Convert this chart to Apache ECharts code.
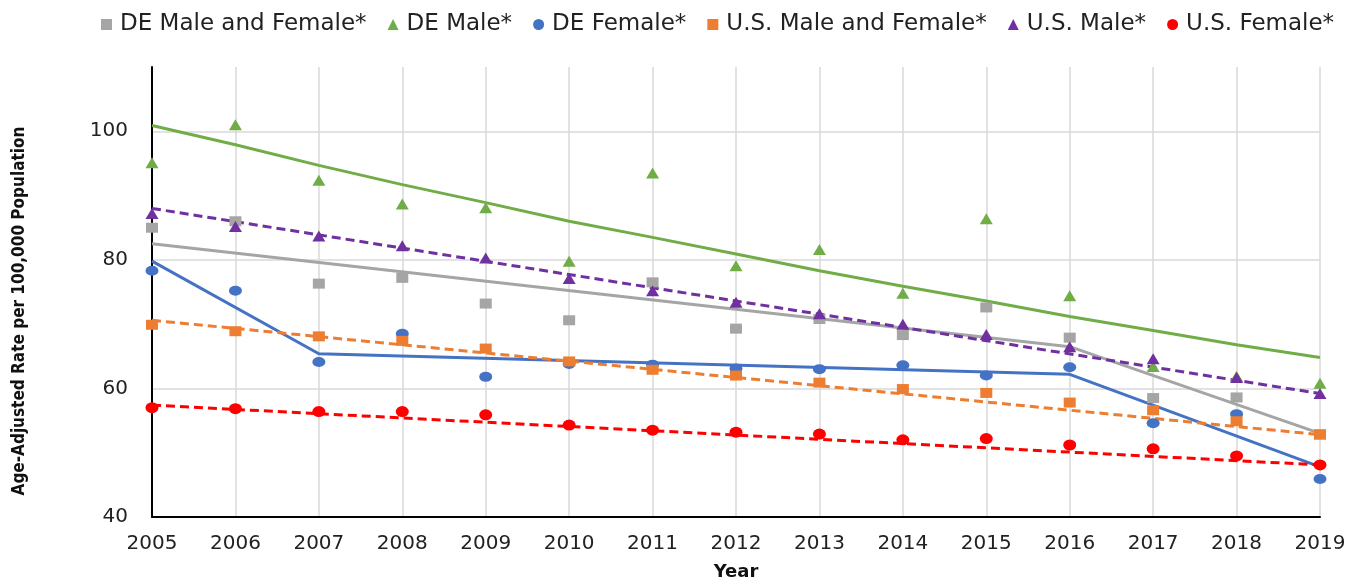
<!DOCTYPE html>
<html>
<head>
<meta charset="utf-8">
<script src="https://cdn.jsdelivr.net/npm/echarts@6/dist/echarts.min.js"></script>
<style>
    html, body { margin: 0; padding: 0; background: #fff; }
    #chart { width: 1357px; height: 579px; }
</style>
</head>
<body>
<div id="chart"></div>
<script>
// data
var years = [2005, 2006, 2007, 2008, 2009, 2010, 2011, 2012, 2013, 2014, 2015, 2016, 2017, 2018, 2019];
var yTicks = [40, 60, 80, 100];

var deBoth   = [85.0, 86.0, 76.3, 77.2, 73.2, 70.6, 76.5, 69.3, 70.8, 68.3, 72.6, 67.9, 58.5, 58.6, 52.9];
var deMale   = [95.1, 101.0, 92.4, 88.7, 88.1, 79.8, 93.5, 79.1, 81.6, 74.8, 86.4, 74.4, 63.4, 61.9, 60.8];
var deFemale = [78.3, 75.2, 64.1, 68.5, 61.8, 63.8, 63.7, 63.1, 63.0, 63.6, 62.0, 63.3, 54.6, 56.0, 45.9];
var usBoth   = [69.9, 68.9, 68.1, 67.4, 66.2, 64.2, 62.9, 62.0, 60.9, 59.9, 59.3, 57.8, 56.6, 54.9, 52.8];
var usMale   = [87.2, 85.2, 83.7, 82.2, 80.3, 77.1, 75.2, 73.4, 71.6, 70.0, 68.4, 66.5, 64.6, 61.7, 59.2];
var usFemale = [57.0, 56.85, 56.4, 56.4, 55.9, 54.3, 53.5, 53.2, 52.9, 52.0, 52.2, 51.2, 50.6, 49.5, 48.1];

// trend lines (joinpoint breaks)
var deBothTrendYears = [2005, 2016, 2019];
var deBothTrend      = [82.5, 66.5, 53.0];
var deMaleTrend      = [100.9, 97.9, 94.7, 91.7, 88.9, 86.0, 83.5, 80.9, 78.3, 75.9, 73.6, 71.2, 69.0, 66.8, 64.8];
var deFemaleTrendYears = [2005, 2007, 2016, 2019];
var deFemaleTrend      = [79.8, 65.4, 62.2, 47.8];
var usTrendYears     = [2005, 2019];
var usBothTrend      = [70.6, 52.8];
var usMaleTrend      = [88.0, 59.2];
var usFemaleTrend    = [57.4, 48.1];

var names = ['DE Male and Female*', 'DE Male*', 'DE Female*', 'U.S. Male and Female*', 'U.S. Male*', 'U.S. Female*'];
var colors = ['#A5A5A5', '#70AD47', '#4472C4', '#ED7D31', '#7030A0', '#FF0000'];

function pairs(xs, ys) {
    var out = [];
    for (var i = 0; i < xs.length; i++) out.push([xs[i], ys[i]]);
    return out;
}

function trend(name, xs, ys, color, dashed) {
    return {
        name: name + ' trend',
        type: 'line',
        data: pairs(xs, ys),
        showSymbol: false,
        symbol: 'none',
        silent: true,
        lineStyle: {
            color: color,
            width: 3,
            type: dashed ? [9, 5] : 'solid'
        },
        z: 2
    };
}

function dots(i, vals, symbol, size) {
    return {
        name: names[i],
        type: 'scatter',
        data: pairs(years, vals),
        symbol: symbol,
        symbolSize: size,
        itemStyle: { color: colors[i], opacity: 1 },
        z: 3
    };
}

var myChart = echarts.init(document.getElementById('chart'));

var option = {
    animation: false,
    textStyle: { fontFamily: 'DejaVu Sans' },
    legend: {
        left: 96,
        top: 8,
        itemWidth: 11,
        itemHeight: 11,
        itemGap: 21,
        textStyle: {
            fontFamily: 'DejaVu Sans',
            fontSize: 23,
            color: '#222',
            padding: [0, 0, 0, 3]
        },
        data: [
            { name: names[0], icon: 'rect' },
            { name: names[1], icon: 'triangle' },
            { name: names[2], icon: 'circle' },
            { name: names[3], icon: 'rect' },
            { name: names[4], icon: 'triangle' },
            { name: names[5], icon: 'circle' }
        ]
    },
    grid: {
        left: 152,
        right: 37,
        top: 67,
        bottom: 62,
        outerBoundsMode: 'none'
    },
    xAxis: {
        type: 'value',
        min: years[0],
        max: years[years.length - 1],
        interval: 1,
        name: 'Year',
        nameLocation: 'middle',
        nameGap: 46,
        nameTextStyle: { fontFamily: 'DejaVu Sans', fontSize: 18, fontWeight: 'bold', color: '#111' },
        axisLine: { show: true, lineStyle: { color: '#000', width: 2 } },
        axisTick: { show: false },
        axisLabel: {
            fontSize: 20,
            color: '#222',
            margin: 17,
            formatter: function (v) { return String(v); }
        },
        splitLine: { show: true, lineStyle: { color: '#D9D9D9', width: 1.5 } }
    },
    yAxis: {
        type: 'value',
        min: yTicks[0],
        max: 110,
        interval: 20,
        name: 'Age-Adjusted Rate per 100,000 Population',
        nameLocation: 'middle',
        nameGap: 124,
        nameTextStyle: {
            fontFamily: "'Liberation Sans Narrow', 'DejaVu Sans Condensed', sans-serif",
            fontSize: 17,
            fontWeight: 'bold',
            color: '#111',
            padding: [0, 38, 0, 0]
        },
        axisLine: { show: true, lineStyle: { color: '#000', width: 2 } },
        axisTick: { show: false },
        axisLabel: {
            fontSize: 20,
            color: '#222',
            margin: 24,
            showMaxLabel: false
        },
        splitLine: {
            show: true,
            showMaxLine: false,
            lineStyle: { color: '#D9D9D9', width: 1.5 }
        }
    },
    series: [
        trend(names[0], deBothTrendYears, deBothTrend, colors[0], false),
        trend(names[1], years, deMaleTrend, colors[1], false),
        trend(names[2], deFemaleTrendYears, deFemaleTrend, colors[2], false),
        trend(names[3], usTrendYears, usBothTrend, colors[3], true),
        trend(names[4], usTrendYears, usMaleTrend, colors[4], true),
        trend(names[5], usTrendYears, usFemaleTrend, colors[5], true),
        dots(0, deBoth, 'rect', [12, 10]),
        dots(1, deMale, 'triangle', [13, 11]),
        dots(2, deFemale, 'circle', [13, 10]),
        dots(3, usBoth, 'rect', [12, 10]),
        dots(4, usMale, 'triangle', [13, 11]),
        dots(5, usFemale, 'circle', [13, 11])
    ]
};

myChart.setOption(option);
</script>
</body>
</html>
